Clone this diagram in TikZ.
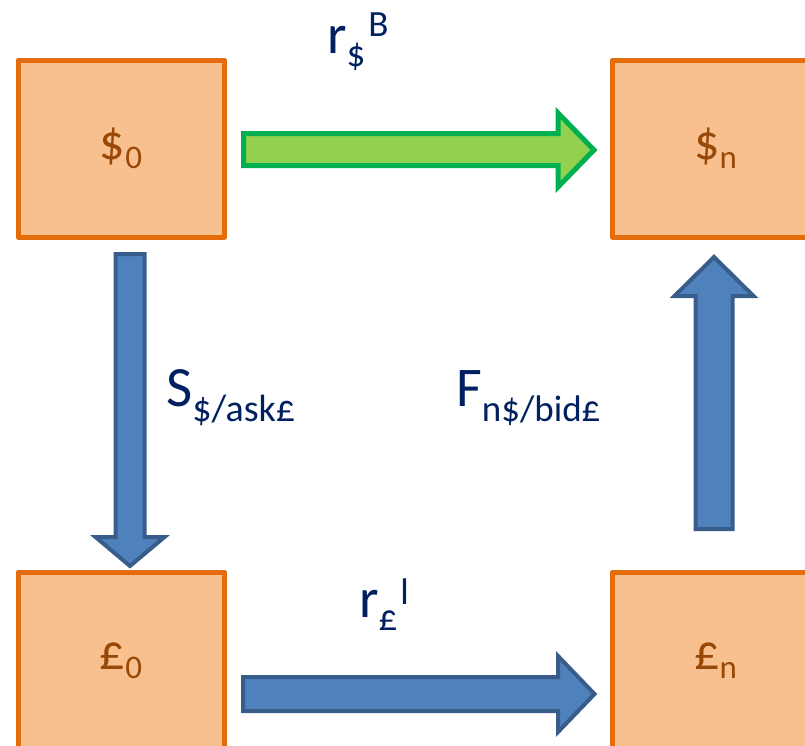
\documentclass[tikz,border=0pt]{standalone}
\usepackage{fontspec}
\setmainfont{Carlito}
\definecolor{boxfill}{HTML}{F9C08F}
\definecolor{boxline}{HTML}{E46C0A}
\definecolor{boxtext}{HTML}{984807}
\definecolor{labeltext}{HTML}{002060}
\definecolor{bluefill}{HTML}{4F81BD}
\definecolor{blueline}{HTML}{385D8A}
\definecolor{greenfill}{HTML}{92D050}
\definecolor{greenline}{HTML}{00B050}
\newcommand{\boxlab}[2]{{\fontsize{50}{56}\selectfont #1\raisebox{-9pt}{\fontsize{33}{38}\selectfont #2}}}
\tikzset{
  statebox/.style={draw=boxline, fill=boxfill, line width=5pt, line join=round,
    minimum width=206pt, minimum height=177pt, inner sep=0pt, text=boxtext},
  bluearrow/.style={draw=blueline, fill=bluefill, line width=4pt, line join=miter},
  greenarrow/.style={draw=greenline, fill=greenfill, line width=5pt, line join=miter},
  ratelabel/.style={text=labeltext, inner sep=0pt, anchor=base west},
}
\begin{document}
\begin{tikzpicture}[x=1pt,y=-1pt]
\useasboundingbox (0,0) rectangle (805,745);
\clip (0,0) rectangle (805,745);
% boxes
\node[statebox] (s0) at (121,148.5) {\boxlab{\$}{0}};
\node[statebox] (sn) at (715.5,148.5) {\boxlab{\$}{n}};
\node[statebox] (p0) at (121,660.5) {\boxlab{£}{0}};
\node[statebox] (pn) at (715.5,660.5) {\boxlab{£}{n}};
% green arrow s0 -> sn
\draw[greenarrow] (243.5,133.5) -- (558,133.5) -- (558,113) -- (594,150) -- (558,187) -- (558,165.5) -- (243.5,165.5) -- cycle;
% blue arrow s0 -> p0 (down)
\draw[bluearrow] (115.5,254) -- (144.5,254) -- (144.5,537) -- (164.5,537) -- (130,566) -- (95.5,537) -- (115.5,537) -- cycle;
% blue arrow pn -> sn (up)
\draw[bluearrow] (695.5,529) -- (732.5,529) -- (732.5,296) -- (753.5,296) -- (714,257) -- (674.5,296) -- (695.5,296) -- cycle;
% blue arrow p0 -> pn
\draw[bluearrow] (243,677) -- (558,677) -- (558,656) -- (594.5,694) -- (558,732) -- (558,711) -- (243,711) -- cycle;
% labels
\node[ratelabel] (lrb) at (327,53) {\fontsize{56}{62}\selectfont r\raisebox{-13pt}{\fontsize{37}{42}\selectfont\$}\hspace{3pt}\raisebox{17pt}{\fontsize{37}{42}\selectfont B}};
\node[ratelabel] (lsa) at (166,406) {\fontsize{57}{63}\selectfont S\raisebox{-15pt}{\fontsize{38}{43}\selectfont\$/ask£}};
\node[ratelabel] (lfb) at (456,406) {\fontsize{56}{62}\selectfont F\raisebox{-15pt}{\fontsize{37}{42}\selectfont n\$/bid£}};
\node[ratelabel] (lrl) at (359,617) {\fontsize{56}{62}\selectfont r\raisebox{-13pt}{\fontsize{37}{42}\selectfont £}\hspace{3pt}\raisebox{13pt}{\fontsize{37}{42}\selectfont l}};
\end{tikzpicture}
\end{document}
